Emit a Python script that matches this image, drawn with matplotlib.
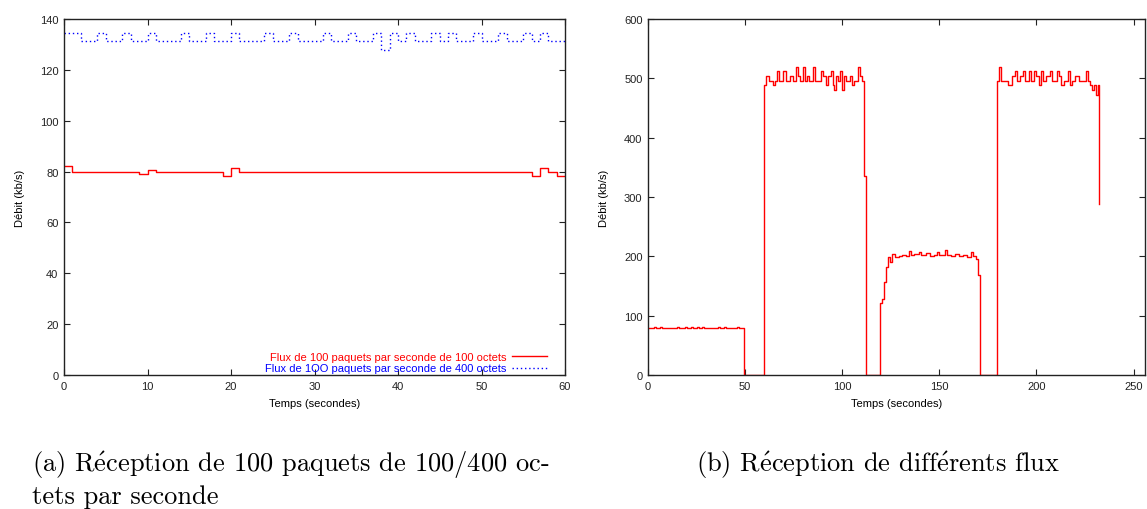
import matplotlib
matplotlib.use("Agg")
from matplotlib import pyplot as plt

plt.rcParams['font.family'] = ['Liberation Sans', 'DejaVu Sans']
plt.rcParams['mathtext.fontset'] = 'cm'

# (a) 100 paquets/s de 100 et 400 octets, debit par seconde (kb/s)
t_rouge = [0, 1, 9, 10, 11, 19, 20, 21, 56, 57, 58, 59, 60]
d_rouge = [82.4, 80.0, 79.2, 80.8, 80.0, 78.4, 81.6, 80.0, 78.4, 81.6, 80.0, 78.4, 78.4]

t_bleu = [0, 2, 4, 5, 7, 8, 10, 11, 14, 15, 17, 18, 20, 21, 24, 25, 27, 28, 31, 32,
          34, 35, 37, 38, 39, 40, 41, 42, 44, 45, 46, 47, 49, 50, 52, 53, 55, 56, 57, 58, 60]
d_bleu = [134.4, 131.2, 134.4, 131.2, 134.4, 131.2, 134.4, 131.2, 134.4, 131.2,
          134.4, 131.2, 134.4, 131.2, 134.4, 131.2, 134.4, 131.2, 134.4, 131.2,
          134.4, 131.2, 134.4, 128.0, 134.4, 131.2, 134.4, 131.2, 134.4, 131.2,
          134.4, 131.2, 134.4, 131.2, 134.4, 131.2, 134.4, 131.2, 134.4, 131.2, 131.2]

label_rouge = "Flux de 100 paquets par seconde de 100 octets"
label_bleu = "Flux de 1OO paquets par seconde de 400 octets"

# (b) differents flux successifs
t_flux = [0, 3, 4, 6, 7, 15, 16, 19, 20, 22, 23, 25, 26, 28, 29, 36, 37, 39, 40, 46, 47, 49.5,
          59.5, 60.5, 62.5, 64.5, 65.5, 66.5, 67.5, 69.5, 71, 73, 74.5, 76, 77, 78, 80, 81, 82, 83,
          85, 86, 89, 90, 91.5, 92.5, 94, 95, 96, 97, 98, 99, 100, 101, 102, 104, 105, 106, 108,
          109, 110, 111.3, 112,
          119.6, 120.6, 121.6, 122.7, 123.6, 124.7, 125.8, 127, 129, 131, 133, 134.5, 135.5, 137,
          139.5, 140.5, 143, 145, 147, 149, 150, 153, 154, 156, 158, 160, 162, 164, 166.5, 167.5,
          169, 170, 171,
          179.7, 180.5, 182, 185.5, 187.5, 189, 190, 191.5, 193, 194, 196, 197, 199, 200, 201.5,
          202.5, 203.5, 205, 207, 208, 210.5, 211.5, 212.5, 214, 216.5, 217.5, 218.5, 220, 222,
          225.5, 226.5, 227.5, 228.8, 229.8, 230.5, 231.5, 232.3]
d_flux = [80, 81.6, 80, 81.6, 80, 81.6, 80, 81.6, 80, 81.6, 80, 81.6, 80, 81.6, 80, 81.6, 80,
          81.6, 80, 81.6, 80, 0,
          488, 504, 496, 488, 496, 512, 496, 512, 496, 504, 496, 520, 504, 496, 520, 496, 504, 496,
          520, 496, 512, 504, 488, 504, 512, 488, 480, 504, 496, 512, 480, 504, 496, 504, 488, 496,
          520, 504, 496, 336, 0,
          122, 128, 156, 182, 199, 190, 204, 199, 201, 203, 200, 209, 202, 204, 208, 202, 205, 201,
          203, 208, 202, 210, 203, 200, 204, 201, 203, 199, 208, 200, 195, 168, 0,
          496, 520, 496, 488, 504, 512, 496, 504, 512, 496, 512, 496, 512, 504, 488, 512, 496, 504,
          512, 496, 512, 504, 488, 496, 512, 488, 496, 504, 496, 512, 496, 488, 480, 488, 472, 488,
          288]

fig = plt.figure(figsize=(11.47, 5.10), dpi=100)
ax1 = fig.add_axes([0.0558, 0.2627, 0.4368, 0.698])
ax2 = fig.add_axes([0.565, 0.2627, 0.4334, 0.698])

ax1.step(t_rouge, d_rouge, where='post', color='#ff0000', lw=1.0, label=label_rouge)
ax1.step(t_bleu, d_bleu, where='post', color='#0000ff', lw=1.0,
         linestyle=(0, (1, 2)), label=label_bleu)
ax1.set_xlim(0, 60)
ax1.set_ylim(0, 140)
ax1.set_xticks(range(0, 61, 10))
ax1.set_yticks(range(0, 141, 20))

ax2.step(t_flux, d_flux, where='post', color='#ff0000', lw=1.0)
ax2.set_xlim(0, 256)
ax2.set_ylim(0, 600)
ax2.set_xticks(range(0, 251, 50))
ax2.set_yticks(range(0, 601, 100))

for ax in (ax1, ax2):
    ax.tick_params(direction='in', length=4, width=0.8, labelsize=8,
                   top=True, right=True, pad=4, colors='#222222')
    for s in ax.spines.values():
        s.set_linewidth(1.0)
        s.set_color('#222222')
    ax.set_xlabel("Temps (secondes)", fontsize=8, labelpad=5)
    ax.set_ylabel("Débit (kb/s)", fontsize=8, labelpad=11)

leg = ax1.legend(loc='lower right', bbox_to_anchor=(0.972, -0.008), frameon=False,
                 markerfirst=False, fontsize=8, handlelength=3.15, handletextpad=0.45,
                 labelspacing=0.15, borderaxespad=0.0, labelcolor='linecolor')

cap = dict(family='cmr10', fontsize=19, color='black')
fig.text(32 / 1147, 1 - 465 / 510, r"(a) R$\acute{\mathrm{e}}$ception de 100 paquets de 100/400 oc-",
         va='center', ha='left', **cap)
fig.text(32 / 1147, 1 - 497 / 510, "tets par seconde", va='center', ha='left', **cap)
fig.text(878 / 1147, 1 - 465 / 510, r"(b) R$\acute{\mathrm{e}}$ception de diff$\acute{\mathrm{e}}$rents flux",
         va='center', ha='center', **cap)

fig.savefig("out.png", dpi=100)
